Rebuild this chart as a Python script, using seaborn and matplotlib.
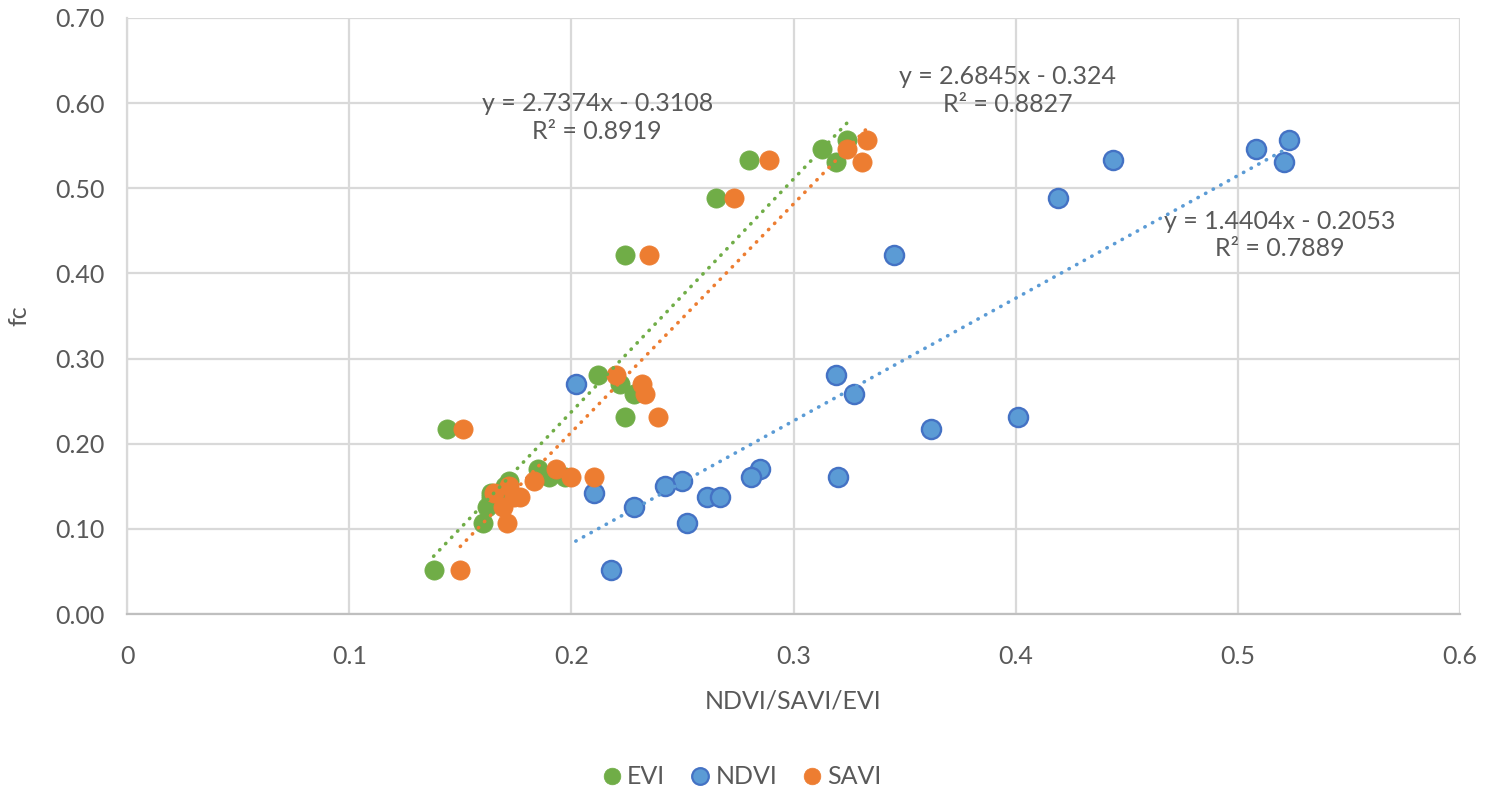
import pandas as pd
import seaborn as sns
import matplotlib.pyplot as plt
from matplotlib.lines import Line2D

# values (fc shared by the three indices)
fc = [0.557, 0.546, 0.533, 0.531, 0.488, 0.422, 0.281, 0.270, 0.258, 0.231, 0.217,
      0.170, 0.161, 0.161, 0.156, 0.150, 0.142, 0.137, 0.137, 0.126, 0.107, 0.052]
evi = [0.324, 0.313, 0.280, 0.319, 0.265, 0.224, 0.212, 0.222, 0.228, 0.224, 0.144,
       0.185, 0.190, 0.197, 0.172, 0.170, 0.164, 0.166, 0.164, 0.162, 0.160, 0.138]
ndvi = [0.523, 0.508, 0.444, 0.521, 0.419, 0.345, 0.319, 0.202, 0.327, 0.401, 0.362,
        0.285, 0.281, 0.320, 0.250, 0.242, 0.210, 0.261, 0.267, 0.228, 0.252, 0.218]
savi = [0.333, 0.324, 0.289, 0.331, 0.273, 0.235, 0.220, 0.232, 0.233, 0.239, 0.151,
        0.193, 0.200, 0.210, 0.183, 0.172, 0.165, 0.177, 0.174, 0.169, 0.171, 0.150]

series = ['EVI', 'NDVI', 'SAVI']
eq_text = ['y = 2.7374x - 0.3108\nR² = 0.8919',
           'y = 1.4404x - 0.2053\nR² = 0.7889',
           'y = 2.6845x - 0.324\nR² = 0.8827']
x_ticks = [0, 0.1, 0.2, 0.3, 0.4, 0.5, 0.6]
x_ticklabels = ['0', '0.1', '0.2', '0.3', '0.4', '0.5', '0.6']
y_ticks = [0, 0.1, 0.2, 0.3, 0.4, 0.5, 0.6, 0.7]
y_ticklabels = ['0.00', '0.10', '0.20', '0.30', '0.40', '0.50', '0.60', '0.70']

colors = {'EVI': '#70AD47', 'NDVI': '#5B9BD5', 'SAVI': '#ED7D31'}
edges = {'EVI': '#70AD47', 'NDVI': '#4472C4', 'SAVI': '#ED7D31'}
label_pos = {'EVI': (0.2116, 0.583), 'NDVI': (0.519, 0.445), 'SAVI': (0.3965, 0.615)}

df = pd.DataFrame({
    'x': evi + ndvi + savi,
    'fc': fc * 3,
    'index': ['EVI'] * len(evi) + ['NDVI'] * len(ndvi) + ['SAVI'] * len(savi),
})

sns.set_style('white')
plt.rcParams['font.family'] = ['Lato', 'DejaVu Sans']
txt = '#595959'
fs = 18

fig = plt.figure(figsize=(14.93, 7.92), dpi=100)
ax = fig.add_axes([0.0851, 0.2247, 0.8928, 0.7526])

for i, s in enumerate(series):
    sub = df[df['index'] == s]
    sns.scatterplot(data=sub, x='x', y='fc', ax=ax, color=colors[s], s=190,
                    edgecolor=edges[s], linewidth=1.7 if s == 'NDVI' else 0.6,
                    zorder=3 + i, legend=False)

for s in series:
    sub = df[df['index'] == s]
    sns.regplot(data=sub, x='x', y='fc', ax=ax, scatter=False, ci=None, truncate=True,
                line_kws={'color': colors[s], 'lw': 2.6,
                          'linestyle': (0, (0.1, 2.3)), 'dash_capstyle': 'round',
                          'zorder': 6})

for i, s in enumerate(series):
    px, py = label_pos[s]
    ax.text(px, py, eq_text[i], ha='center', va='center', fontsize=fs,
            color=txt, linespacing=1.25, zorder=7)

ax.set_xlim(0, 0.6)
ax.set_ylim(0, 0.7)
ax.set_xticks(x_ticks)
ax.set_xticklabels(x_ticklabels)
ax.set_yticks(y_ticks)
ax.set_yticklabels(y_ticklabels)
ax.tick_params(length=0, labelsize=fs, labelcolor=txt)
ax.tick_params(axis='x', pad=22)
ax.tick_params(axis='y', pad=16)
ax.grid(True, color='#D9D9D9', lw=1.6)
ax.set_axisbelow(True)
for side in ['top', 'right']:
    ax.spines[side].set_visible(False)
ax.spines['left'].set_color('#D9D9D9')
ax.spines['left'].set_linewidth(1.6)
ax.spines['bottom'].set_color('#BFBFBF')
ax.spines['bottom'].set_linewidth(1.6)

ax.set_xlabel('NDVI/SAVI/EVI', fontsize=fs, color=txt, labelpad=16)
ax.set_ylabel('fc', fontsize=fs, color=txt, labelpad=18)

handles = [Line2D([], [], ls='', marker='o', markersize=12, markerfacecolor=colors[s],
                  markeredgecolor=edges[s], markeredgewidth=1.6 if s == 'NDVI' else 0.5)
           for s in series]
fig.legend(handles, series, loc='center', bbox_to_anchor=(0.496, 0.019), ncol=3,
           frameon=False, fontsize=fs, labelcolor=txt, handletextpad=0.1,
           columnspacing=0.9, handlelength=1.0)

fig.savefig('out.png', dpi=100)
